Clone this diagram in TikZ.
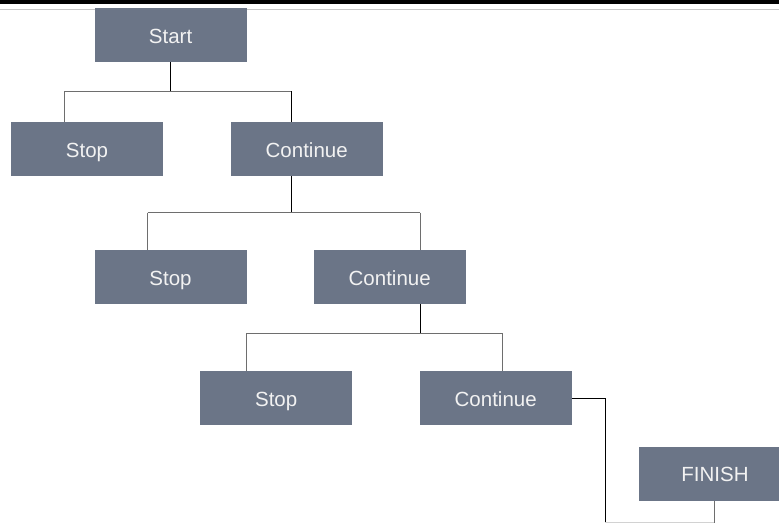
\documentclass[tikz,border=0pt]{standalone}
\usepackage{fontspec}
\setmainfont{Liberation Sans}
\definecolor{boxfill}{RGB}{107,117,135}
\definecolor{boxtext}{RGB}{242,242,242}
\definecolor{barline}{RGB}{110,110,110}
\tikzset{
  box/.style={fill=boxfill, draw=none, minimum width=152pt, minimum height=54pt,
    inner sep=0pt, text height=16.2pt, text depth=0pt, text=boxtext,
    font=\fontsize{20.5}{24}\selectfont},
  dropline/.style={draw=black, line width=1pt},
  barl/.style={draw=barline, line width=1pt},
}
\begin{document}
\begin{tikzpicture}[x=1pt,y=-1pt]
\clip (0,0) rectangle (779,524);
\fill[white] (0,0) rectangle (779,524);
% top rule
\fill[black] (0,0) rectangle (779,4);
\draw[gray!45, line width=1pt] (0,9.7) -- (779,9.7);

% boxes
\node[box] (start) at (170.6,35) {Start};
\node[box] (stop1) at (87,149) {Stop};
\node[box] (cont1) at (306.7,149) {Continue};
\node[box] (stop2) at (170.5,277) {Stop};
\node[box] (cont2) at (389.7,277) {Continue};
\node[box] (stop3) at (276.2,398.3) {Stop};
\node[box] (cont3) at (495.7,398.3) {Continue};
\node[box] (finish) at (715,473.7) {FINISH};

% junction coordinates
\coordinate (a1) at (64.3,91.5);
\coordinate (b1) at (291.5,91.5);
\coordinate (a2) at (147.7,212.7);
\coordinate (b2) at (420,212.7);
\coordinate (a3) at (246,333.7);
\coordinate (b3) at (502.7,333.7);
\coordinate (t1) at (605.3,398.3);
\coordinate (t2) at (605.3,522.8);
\coordinate (t3) at (714.7,522.8);

% level 1
\draw[dropline] (start.south) -- (start.south |- a1);
\draw[barl] (a1) -- (b1);
\draw[barl] (a1) -- (a1 |- stop1.north);
\draw[dropline] (b1) -- (b1 |- cont1.north);
% level 2
\draw[dropline] (b1 |- cont1.south) -- (b1 |- a2);
\draw[barl] (a2) -- (b2);
\draw[barl] (a2) -- (a2 |- stop2.north);
\draw[barl] (b2) -- (b2 |- cont2.north);
% level 3
\draw[dropline] (b2 |- cont2.south) -- (b2 |- a3);
\draw[barl] (a3) -- (b3);
\draw[barl] (a3) -- (a3 |- stop3.north);
\draw[barl] (b3) -- (b3 |- cont3.north);
% to finish
\draw[dropline] (cont3.east) -- (t1) -- (t2);
\draw[gray!35, line width=1pt] (t2) -- (t3);
\draw[barl] (t3) -- (t3 |- finish.south);
\end{tikzpicture}
\end{document}
